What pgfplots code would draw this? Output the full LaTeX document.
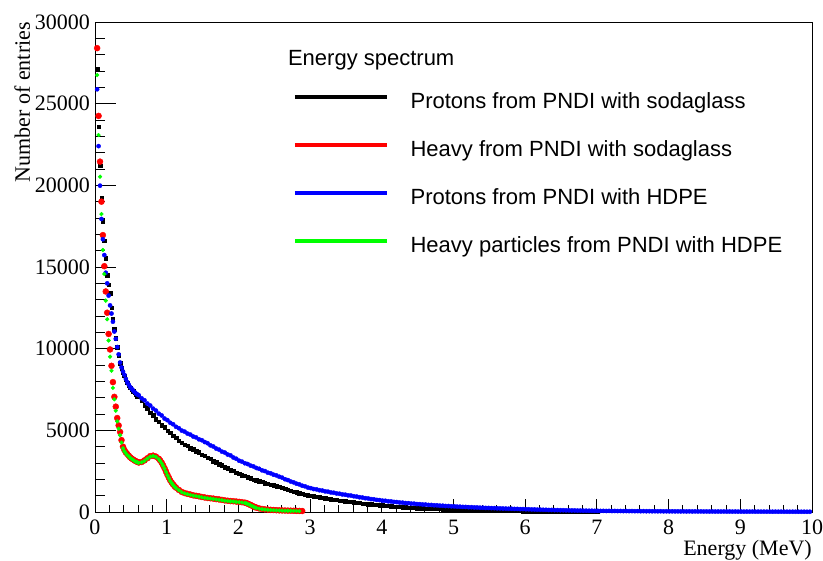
\documentclass[border=0pt]{standalone}
\usepackage{fontspec}
\setmainfont{Liberation Serif}
\newfontfamily\legfont{Liberation Sans}
\usepackage{pgfplots}
\pgfplotsset{compat=1.18}

\begin{document}
\fontsize{22}{26}\selectfont
\begin{tikzpicture}
\path[use as bounding box] (0pt,0pt) rectangle (823pt,561pt);
% y-axis ticks and labels
\begin{axis}[
  at={(95pt,49pt)}, anchor=south west,
  scale only axis, width=717pt, height=490pt,
  xmin=0, xmax=10, ymin=0, ymax=30000,
  scaled y ticks=false,
  xtick={0,1,2,3,4,5,6,7,8,9,10},
  xticklabels={},
  ytick={0,5000,10000,15000,20000,25000,30000},
  yticklabels={0,5000,10000,15000,20000,25000,30000},
  minor x tick num=4, minor y tick num=4,
  xtick pos=bottom, ytick pos=left, tick align=inside,
  major tick length=21pt, minor tick length=10.5pt,
  every tick/.style={black, line width=0.9pt},
  xtick style={draw opacity=0},
  yticklabel style={anchor=east, xshift=2.3pt},
]
\addplot[draw=none, forget plot] coordinates {(5,15000)};
\end{axis}
% main axis
\begin{axis}[
  at={(95pt,49pt)}, anchor=south west,
  scale only axis, width=717pt, height=490pt,
  xmin=0, xmax=10, ymin=0, ymax=30000,
  scaled y ticks=false,
  xtick={0,1,2,3,4,5,6,7,8,9,10},
  xticklabels={0,1,2,3,4,5,6,7,8,9,10},
  ytick={0,5000,10000,15000,20000,25000,30000},
  yticklabels={},
  minor x tick num=4, minor y tick num=4,
  xtick pos=bottom, ytick pos=left, tick align=inside,
  major tick length=13pt, minor tick length=6.5pt,
  every tick/.style={black, line width=0.9pt},
  xticklabel style={anchor=base, yshift=-23pt},
  xlabel={Energy (MeV)},
  xlabel style={at={(rel axis cs:1,-0.0878)}, anchor=base east, inner sep=0pt},
  ylabel={Number of entries},
  ylabel style={at={(rel axis cs:-0.0907,1)}, anchor=base east, inner sep=0pt},
  legend cell align=left,
  legend image code/.code={\draw[#1, line width=3.5pt] (0pt,6pt) -- (92pt,6pt);},
  legend style={draw=none, fill=none, at={(rel axis cs:0.276,0.857)}, anchor=north west,
    inner sep=0pt, row sep=27pt, font=\legfont\fontsize{22}{26}\selectfont,
    nodes={text height=16pt, text depth=5pt, inner sep=0pt},
    /tikz/every odd column/.append style={column sep=22pt}},
]
\addplot[only marks, mark=square*, mark size=1.7pt, black, forget plot] table {
x y
0.03 27150
0.05 23600
0.07 21200
0.09 19200
0.11 17800
0.13 16600
0.15 15550
0.17 14500
0.19 13900
0.21 13400
0.23 12500
0.25 11800
0.27 11200
0.29 10650
0.31 10100
0.33 9600
0.35 9100
0.37 8800
0.39 8550
0.41 8350
0.43 8100
0.45 7900
0.47 7750
0.49 7600
0.51 7500
0.53 7400
0.55 7300
0.57 7200
0.59 7100
0.61 7050
0.65 6830
0.69 6540
0.73 6350
0.77 6090
0.81 5920
0.85 5690
0.89 5540
0.93 5320
0.97 5180
1.01 4980
1.05 4860
1.09 4670
1.13 4550
1.17 4370
1.21 4260
1.25 4120
1.29 4050
1.33 3910
1.37 3850
1.41 3710
1.45 3650
1.49 3520
1.53 3460
1.57 3320
1.61 3250
1.65 3120
1.69 3050
1.73 2920
1.77 2860
1.81 2740
1.85 2690
1.89 2570
1.93 2520
1.97 2410
2.01 2360
2.05 2260
2.09 2215
2.13 2120
2.17 2075
2.21 1990
2.25 1955
2.29 1880
2.33 1845
2.37 1775
2.41 1745
2.45 1680
2.49 1650
2.53 1585
2.57 1560
2.61 1475
2.65 1430
2.69 1355
2.73 1315
2.77 1245
2.81 1205
2.85 1140
2.89 1105
2.93 1055
2.97 1035
3.01 985
3.05 968
3.09 922
3.13 905
3.17 860
3.21 846
3.25 805
3.29 790
3.33 752
3.37 740
3.41 703
3.45 692
3.49 657
3.53 648
3.57 614
3.61 602
3.65 567
3.69 556
3.73 523
3.77 514
3.81 483
3.85 474
3.89 446
3.93 438
3.97 411
4.01 405
4.05 379
4.09 371
4.13 348
4.17 341
4.21 319
4.25 314
4.29 293
4.33 288
4.37 270
4.41 265
4.45 247
4.49 243
4.53 230
4.57 229
4.61 217
4.65 216
4.69 205
4.73 204
4.77 193
4.81 193
4.85 182
4.89 182
4.93 172
4.97 171
5.01 161
5.05 158
5.09 148
5.13 146
5.17 137
5.21 135
5.25 126
5.29 124
5.33 116
5.37 115
5.41 107
5.45 105
5.49 98
5.53 97
5.57 90
5.61 88
5.65 82
5.69 81
5.73 75
5.77 74
5.81 68
5.85 67
5.89 62
5.93 61
5.97 57
6.01 56
6.05 51
6.09 51
6.13 46
6.17 46
6.21 41
6.25 41
6.29 37
6.33 37
6.37 33
6.41 34
6.45 30
6.49 30
6.53 27
6.57 27
6.61 24
6.65 25
6.69 21
6.73 22
6.77 19
6.81 20
6.85 17
6.89 18
6.93 15
6.97 16
7.01 14
};
\addplot[only marks, mark=*, mark size=3pt, red, forget plot] table {
x y
0.03 28400
0.05 24250
0.07 21450
0.09 19000
0.11 16950
0.13 15050
0.15 13500
0.17 12200
0.19 10900
0.21 9950
0.23 8950
0.25 7950
0.27 7050
0.29 6450
0.31 5750
0.33 5300
0.35 4900
0.37 4400
0.39 4000
0.41 3800
0.43 3650
0.45 3550
0.47 3450
0.49 3350
0.51 3280
0.53 3220
0.55 3160
0.57 3110
0.59 3070
0.61 3030
0.65 3060
0.69 3160
0.73 3290
0.77 3420
0.81 3450
0.85 3390
0.89 3260
0.91 3150
0.93 3020
0.95 2860
0.97 2680
0.99 2480
1.01 2280
1.03 2100
1.05 1930
1.07 1800
1.09 1680
1.11 1580
1.13 1490
1.17 1350
1.21 1230
1.25 1160
1.29 1110
1.33 1070
1.37 1020
1.41 990
1.45 960
1.49 920
1.53 890
1.57 860
1.61 840
1.65 820
1.69 790
1.73 770
1.77 740
1.81 710
1.85 690
1.89 670
1.93 660
1.97 640
2.01 620
2.05 600
2.09 570
2.11 545
2.13 510
2.15 470
2.17 430
2.19 385
2.21 340
2.23 300
2.25 270
2.29 220
2.33 185
2.37 160
2.41 145
2.45 130
2.49 120
2.53 110
2.57 100
2.61 95
2.65 90
2.69 85
2.73 80
2.77 75
2.81 70
2.85 65
2.89 60
};
\addplot[only marks, mark=*, mark size=2.1pt, blue, forget plot] table {
x y
0.03 25880
0.05 22400
0.07 19980
0.09 17940
0.11 16700
0.13 15730
0.15 14650
0.17 14000
0.19 13250
0.21 12650
0.23 12150
0.25 11650
0.27 11050
0.29 10600
0.31 10100
0.33 9650
0.35 9150
0.37 8850
0.39 8600
0.41 8400
0.43 8150
0.45 7950
0.47 7800
0.49 7650
0.51 7550
0.53 7450
0.55 7350
0.57 7260
0.59 7200
0.61 7150
0.65 6960
0.69 6840
0.73 6640
0.77 6520
0.81 6330
0.85 6210
0.89 6020
0.93 5910
0.97 5720
1.01 5620
1.05 5460
1.09 5370
1.13 5215
1.17 5130
1.21 4985
1.25 4920
1.29 4800
1.33 4740
1.37 4620
1.41 4565
1.45 4450
1.49 4395
1.53 4285
1.57 4210
1.61 4080
1.65 4010
1.69 3885
1.73 3820
1.77 3695
1.81 3640
1.85 3520
1.89 3465
1.93 3335
1.97 3260
2.01 3140
2.05 3085
2.09 2985
2.13 2935
2.17 2840
2.21 2790
2.25 2695
2.29 2645
2.33 2550
2.37 2505
2.41 2410
2.45 2370
2.49 2285
2.53 2240
2.57 2160
2.61 2105
2.65 2005
2.69 1955
2.73 1865
2.77 1815
2.81 1735
2.85 1690
2.89 1610
2.93 1570
2.97 1495
3.01 1460
3.05 1405
3.09 1385
3.13 1332
3.17 1312
3.21 1263
3.25 1243
3.29 1197
3.33 1179
3.37 1135
3.41 1119
3.45 1076
3.49 1061
3.53 1020
3.57 1006
3.61 962
3.65 943
3.69 901
3.73 884
3.77 844
3.81 829
3.85 791
3.89 777
3.93 741
3.97 729
4.01 694
4.05 686
4.09 654
4.13 646
4.17 616
4.21 608
4.25 581
4.29 573
4.33 547
4.37 540
4.41 515
4.45 510
4.49 486
4.53 480
4.57 459
4.61 455
4.65 434
4.69 430
4.73 410
4.77 407
4.81 388
4.85 385
4.89 366
4.93 364
4.97 347
5.01 344
5.05 328
5.09 325
5.13 311
5.17 308
5.21 294
5.25 292
5.29 278
5.33 277
5.37 263
5.41 262
5.45 249
5.49 248
5.53 236
5.57 235
5.61 223
5.65 223
5.69 211
5.73 210
5.77 200
5.81 199
5.85 189
5.89 189
5.93 178
5.97 178
6.01 168
6.05 166
6.09 156
6.13 155
6.17 145
6.21 144
6.25 135
6.29 134
6.33 125
6.37 125
6.41 116
6.45 116
6.49 108
6.53 108
6.57 101
6.61 101
6.65 94
6.69 95
6.73 87
6.77 88
6.81 81
6.85 82
6.89 76
6.93 77
6.97 71
7.01 72
7.05 66
7.09 69
7.13 63
7.17 66
7.21 60
7.25 63
7.29 58
7.33 61
7.37 55
7.41 58
7.45 53
7.49 56
7.53 50
7.57 53
7.61 48
7.65 51
7.69 46
7.73 49
7.77 44
7.81 47
7.85 42
7.89 45
7.93 40
7.97 43
8.01 38
8.05 41
8.09 36
8.13 40
8.17 35
8.21 38
8.25 34
8.29 37
8.33 32
8.37 36
8.41 31
8.45 34
8.49 30
8.53 33
8.57 29
8.61 32
8.65 28
8.69 31
8.73 27
8.77 30
8.81 26
8.85 29
8.89 25
8.93 28
8.97 24
9.01 27
9.05 23
9.09 26
9.13 22
9.17 25
9.21 21
9.25 24
9.29 21
9.33 23
9.37 20
9.41 22
9.45 19
9.49 21
9.53 18
9.57 20
9.61 17
9.65 19
9.69 16
9.73 18
9.77 16
9.81 17
9.85 15
9.89 17
9.93 14
9.97 16
};
\addplot[only marks, mark=*, mark size=1.9pt, green, forget plot] table {
x y
0.03 26750
0.05 23080
0.07 20530
0.09 18240
0.11 16040
0.13 14570
0.15 12940
0.17 11800
0.19 10500
0.21 9510
0.23 8650
0.25 7600
0.27 6900
0.29 6200
0.31 5550
0.33 5100
0.35 4700
0.37 4250
0.39 3900
0.41 3720
0.43 3590
0.45 3490
0.47 3410
0.49 3320
0.51 3250
0.53 3190
0.55 3130
0.57 3080
0.59 3040
0.61 3010
0.65 3040
0.69 3130
0.73 3270
0.77 3390
0.81 3430
0.85 3370
0.89 3230
0.91 3120
0.93 2990
0.95 2830
0.97 2650
0.99 2450
1.01 2250
1.03 2070
1.05 1900
1.07 1770
1.09 1650
1.11 1550
1.13 1460
1.17 1330
1.21 1210
1.25 1140
1.29 1090
1.33 1050
1.37 1000
1.41 970
1.45 940
1.49 900
1.53 870
1.57 840
1.61 820
1.65 800
1.69 770
1.73 750
1.77 720
1.81 690
1.85 670
1.89 650
1.93 640
1.97 620
2.01 600
2.05 580
2.09 550
2.11 525
2.13 490
2.15 450
2.17 410
2.19 365
2.21 320
2.23 280
2.25 250
2.29 200
2.33 170
2.37 150
2.41 135
2.45 120
2.49 110
2.53 100
2.57 90
2.61 85
2.65 80
2.69 75
2.73 70
2.77 65
2.81 60
2.85 55
};
\addlegendimage{black}
\addlegendentry{Protons from PNDI with sodaglass}
\addlegendimage{red}
\addlegendentry{Heavy from PNDI with sodaglass}
\addlegendimage{blue}
\addlegendentry{Protons from PNDI with HDPE}
\addlegendimage{green}
\addlegendentry{Heavy particles from PNDI with HDPE}
\node[anchor=base west, inner sep=0pt, font=\legfont\fontsize{22}{26}\selectfont] at (rel axis cs:0.269,0.912) {Energy spectrum};
\end{axis}
\end{tikzpicture}
\end{document}
